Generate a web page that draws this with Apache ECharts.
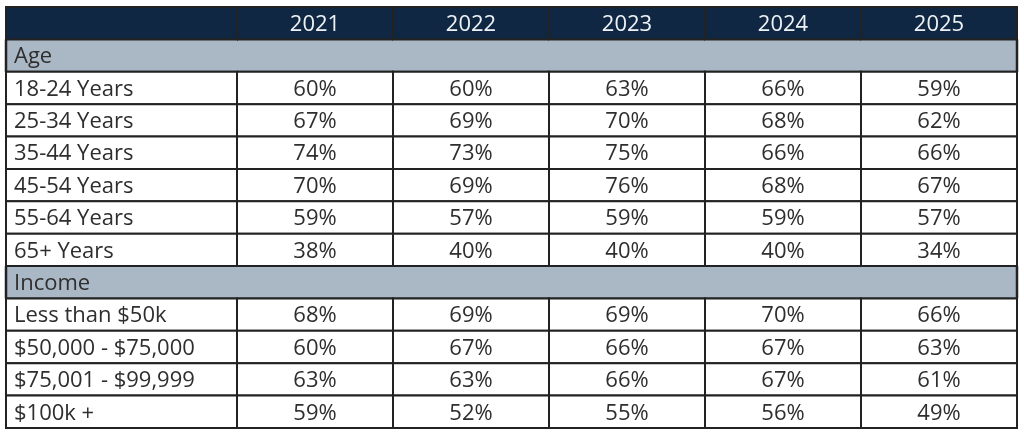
<!DOCTYPE html>
<html lang="en">

<head>
    <meta charset="UTF-8">
    <title>Table</title>
    <style>
        html, body { margin: 0; padding: 0; background: #fff; }
    </style>
</head>

<body>
    <div id="main" style="width: 1024px; height:433px"></div>
    <script src="https://cdn.jsdelivr.net/npm/echarts@6/dist/echarts.min.js"></script>
    <script type="text/javascript">
        // table data
        var years = ['2021', '2022', '2023', '2024', '2025'];
        var ageGroups = ['18-24 Years', '25-34 Years', '35-44 Years', '45-54 Years', '55-64 Years', '65+ Years'];
        var ageValues = [
            [60, 60, 63, 66, 59],
            [67, 69, 70, 68, 62],
            [74, 73, 75, 66, 66],
            [70, 69, 76, 68, 67],
            [59, 57, 59, 59, 57],
            [38, 40, 40, 40, 34]
        ];
        var incomeGroups = ['Less than $50k', '$50,000 - $75,000', '$75,001 - $99,999', '$100k +'];
        var incomeValues = [
            [68, 69, 69, 70, 66],
            [60, 67, 66, 67, 63],
            [63, 63, 66, 67, 61],
            [59, 52, 55, 56, 49]
        ];

        // rows of the table, top to bottom
        var rows = [];
        rows.push({ kind: 'head', label: '', values: years });
        rows.push({ kind: 'section', label: 'Age' });
        ageGroups.forEach(function (g, i) {
            rows.push({ kind: 'item', label: g, values: ageValues[i].map(function (v) { return v + '%'; }) });
        });
        rows.push({ kind: 'section', label: 'Income' });
        incomeGroups.forEach(function (g, i) {
            rows.push({ kind: 'item', label: g, values: incomeValues[i].map(function (v) { return v + '%'; }) });
        });
        var rowNames = rows.map(function (r, i) { return 'r' + i; });

        var HEAD = '#0f2742';
        var SECTION = '#aab8c6';
        var LINE = '#222222';
        var FONT = '"Open Sans", sans-serif';

        var labelCells = [];
        var valueCells = [];
        rows.forEach(function (r, ri) {
            labelCells.push({ value: [0, ri], row: r, text: r.label, col: 0 });
            years.forEach(function (y, ci) {
                valueCells.push({ value: [ci, ri], row: r, text: r.kind === 'section' ? '' : r.values[ci], col: ci });
            });
        });

        function makeRender(cells, isLabel) {
            return function (params, api) {
                var cell = cells[params.dataIndex];
                var p = api.coord([api.value(0), api.value(1)]);
                var s = api.size([1, 1]);
                var x0 = p[0] - s[0] / 2, y0 = p[1] - s[1] / 2, w = s[0], h = s[1];
                var kind = cell.row.kind;
                var children = [];
                var fill = kind === 'head' ? HEAD : (kind === 'section' ? SECTION : '#ffffff');
                if (kind === 'section') {
                    children.push({ type: 'rect', shape: { x: x0, y: y0, width: w, height: h }, style: { fill: fill } });
                    children.push({ type: 'line', shape: { x1: x0 - 1, y1: y0, x2: x0 + w + 1, y2: y0 }, style: { stroke: LINE, lineWidth: 2 } });
                    children.push({ type: 'line', shape: { x1: x0 - 1, y1: y0 + h, x2: x0 + w + 1, y2: y0 + h }, style: { stroke: LINE, lineWidth: 2 } });
                    if (isLabel) {
                        children.push({ type: 'line', shape: { x1: x0, y1: y0, x2: x0, y2: y0 + h }, style: { stroke: LINE, lineWidth: 2.5 } });
                    }
                    if (!isLabel && cell.col === years.length - 1) {
                        children.push({ type: 'line', shape: { x1: x0 + w, y1: y0, x2: x0 + w, y2: y0 + h }, style: { stroke: LINE, lineWidth: 2.5 } });
                    }
                } else {
                    children.push({ type: 'rect', shape: { x: x0, y: y0, width: w, height: h }, style: { fill: fill, stroke: LINE, lineWidth: 2 } });
                }
                if (cell.text) {
                    children.push({
                        type: 'text',
                        style: {
                            x: isLabel ? x0 + 8 : x0 + w / 2,
                            y: y0 + h / 2 + 1.5,
                            text: cell.text,
                            fill: kind === 'head' ? '#eef2f6' : '#2e2e2e',
                            font: '22px ' + FONT,
                            align: isLabel ? 'left' : 'center',
                            verticalAlign: 'middle'
                        }
                    });
                }
                return { type: 'group', children: children };
            };
        }

        var myChart = echarts.init(document.getElementById('main'));

        var option = {
            animation: false,
            grid: [
                { left: 6, width: 231, top: 7, bottom: 5 },
                { left: 237, right: 7, top: 7, bottom: 5 }
            ],
            xAxis: [
                { type: 'category', gridIndex: 0, data: [''], show: false },
                { type: 'category', gridIndex: 1, data: years, show: false }
            ],
            yAxis: [
                { type: 'category', gridIndex: 0, data: rowNames, inverse: true, show: false },
                { type: 'category', gridIndex: 1, data: rowNames, inverse: true, show: false }
            ],
            series: [
                {
                    type: 'custom',
                    xAxisIndex: 1,
                    yAxisIndex: 1,
                    renderItem: makeRender(valueCells, false),
                    data: valueCells.map(function (c) { return c.value; }),
                    silent: true
                },
                {
                    type: 'custom',
                    xAxisIndex: 0,
                    yAxisIndex: 0,
                    renderItem: makeRender(labelCells, true),
                    data: labelCells.map(function (c) { return c.value; }),
                    silent: true
                }
            ]
        };
        myChart.setOption(option);
    </script>

</body>

</html>
